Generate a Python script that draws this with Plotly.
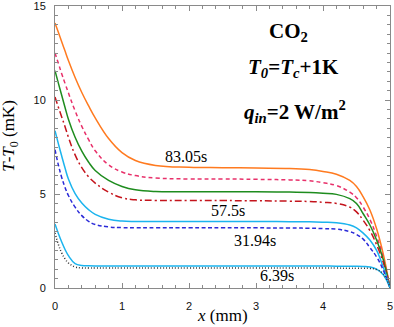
import plotly.graph_objects as go

# x positions (mm) at which the profiles were read
x_mm = [0, 0.05, 0.1, 0.15, 0.2, 0.3, 0.4, 0.5, 0.6, 0.8, 1.0, 1.2, 1.5, 2.0, 2.5,
        3.0, 3.5, 3.8, 4.0, 4.2, 4.4, 4.5, 4.6, 4.7, 4.8, 4.9, 5.0]

# T - T0 (mK)
orange_solid = [14.1, 13.6, 13.1, 12.6, 12.1, 11.2, 10.4, 9.7, 9.05, 7.95, 7.2, 6.78, 6.52, 6.42, 6.4,
                6.38, 6.36, 6.3, 6.2, 6.05, 5.72, 5.4, 4.85, 4.15, 3.15, 1.8, 0.0]
pink_dash = [12.5, 11.95, 11.4, 10.88, 10.38, 9.42, 8.6, 7.9, 7.3, 6.55, 6.17, 5.98, 5.85, 5.8, 5.8,
             5.78, 5.75, 5.7, 5.6, 5.45, 5.1, 4.8, 4.3, 3.65, 2.75, 1.6, 0.0]
green_solid = [11.56, 10.9, 10.25, 9.6, 8.98, 8.02, 7.28, 6.7, 6.25, 5.72, 5.4, 5.22, 5.13, 5.12, 5.12,
               5.12, 5.1, 5.08, 5.04, 4.98, 4.75, 4.5, 3.95, 3.35, 2.55, 1.5, 0.0]
red_dashdot = [10.16, 9.62, 9.1, 8.58, 8.02, 7.08, 6.4, 5.92, 5.58, 5.1, 4.8, 4.69, 4.66, 4.65, 4.65,
               4.64, 4.62, 4.6, 4.56, 4.5, 4.3, 4.05, 3.6, 3.05, 2.3, 1.35, 0.0]
cyan_upper = [8.37, 7.68, 7.02, 6.38, 5.8, 5.02, 4.52, 4.17, 3.92, 3.66, 3.56, 3.54, 3.54, 3.54, 3.54,
              3.54, 3.53, 3.52, 3.5, 3.47, 3.35, 3.2, 2.92, 2.55, 2.0, 1.1, 0.0]
blue_dash = [7.36, 6.55, 5.88, 5.35, 4.92, 4.3, 3.85, 3.55, 3.38, 3.25, 3.21, 3.2, 3.2, 3.2, 3.2,
             3.2, 3.19, 3.18, 3.16, 3.13, 3.0, 2.85, 2.6, 2.15, 1.65, 0.95, 0.0]
cyan_lower = [3.4, 2.9, 2.45, 2.05, 1.72, 1.3, 1.2, 1.18, 1.17, 1.17, 1.17, 1.17, 1.17, 1.17, 1.17,
              1.17, 1.17, 1.17, 1.17, 1.16, 1.16, 1.16, 1.15, 1.12, 1.0, 0.7, 0.0]
black_dot = [2.93, 2.32, 1.87, 1.55, 1.33, 1.12, 1.07, 1.06, 1.06, 1.06, 1.06, 1.06, 1.06, 1.06, 1.06,
             1.06, 1.06, 1.06, 1.06, 1.06, 1.05, 1.05, 1.05, 1.04, 0.98, 0.75, 0.0]

time_labels = ["83.05s", "57.5s", "31.94s", "6.39s"]
label_x = [1.96, 2.58, 2.99, 3.31]
label_y = [6.98, 4.11, 2.52, 0.65]

x_ticks = [0, 1, 2, 3, 4, 5]
y_ticks = [0, 5, 10, 15]

series = [
    (orange_solid, "#FF7A1F", "solid"),
    (pink_dash, "#E8306A", "4px,3px"),
    (green_solid, "#1E8C1E", "solid"),
    (red_dashdot, "#C4141C", "7px,3px,2px,3px"),
    (cyan_upper, "#1BB4EE", "solid"),
    (blue_dash, "#2A2AD8", "4px,2.5px"),
    (cyan_lower, "#1BB4EE", "solid"),
    (black_dot, "#333333", "1px,2px"),
]

fig = go.Figure()
for ys, col, dash in series:
    fig.add_trace(go.Scatter(x=x_mm, y=ys, mode="lines",
                             line=dict(color=col, width=1.5, dash=dash, shape="spline", smoothing=1.2),
                             showlegend=False, hoverinfo="skip"))

serif = "Liberation Serif"
sans = "Liberation Sans"

for t, lx, ly in zip(time_labels, label_x, label_y):
    fig.add_annotation(x=lx, y=ly, xref="x", yref="y", text=t, showarrow=False,
                       font=dict(family=serif, size=16, color="black"),
                       xanchor="center", yanchor="middle")

fig.add_annotation(x=3.49, y=13.62, xref="x", yref="y", text="<b>CO<sub>2</sub></b>",
                   showarrow=False, font=dict(family=serif, size=21, color="black"),
                   xanchor="center", yanchor="middle")
fig.add_annotation(x=3.56, y=11.72, xref="x", yref="y",
                   text="<b><i>T</i><sub><i>0</i></sub>=<i>T</i><sub><i>c</i></sub>+1K</b>",
                   showarrow=False, font=dict(family=serif, size=21, color="black"),
                   xanchor="center", yanchor="middle")
fig.add_annotation(x=3.58, y=9.4, xref="x", yref="y",
                   text="<b><i>q</i><sub><i>in</i></sub>=2 W/m<sup>2</sup></b>",
                   showarrow=False, font=dict(family=serif, size=21, color="black"),
                   xanchor="center", yanchor="middle")

# axis titles
fig.add_annotation(x=0.5, y=-0.099, xref="paper", yref="paper", text="<i>x</i> (mm)",
                   showarrow=False, font=dict(family=serif, size=17, color="black"),
                   xanchor="center", yanchor="middle")
fig.add_annotation(x=-0.134, y=0.54, xref="paper", yref="paper",
                   text="<i>T</i>-<i>T</i><sub>0</sub> (mK)", textangle=-90,
                   showarrow=False, font=dict(family=serif, size=17, color="black"),
                   xanchor="center", yanchor="middle")

axis_common = dict(showgrid=False, zeroline=False, showline=True, linecolor="#8a8a8a",
                   linewidth=1, mirror="allticks", ticks="inside", ticklen=5,
                   tickcolor="#8a8a8a", tickwidth=1, automargin=False,
                   ticklabeloverflow="allow",
                   tickfont=dict(family=sans, size=11, color="#111111"))

fig.update_xaxes(range=[0, 5], tickvals=x_ticks, ticktext=[str(v) for v in x_ticks],
                 minor=dict(dtick=0.2, ticks="inside", ticklen=3, tickcolor="#8a8a8a", showgrid=False),
                 ticklabelstandoff=8, **axis_common)
fig.update_yaxes(range=[0, 15], tickvals=y_ticks, ticktext=[str(v) for v in y_ticks],
                 minor=dict(dtick=0.5, ticks="inside", ticklen=3, tickcolor="#8a8a8a", showgrid=False),
                 ticklabelstandoff=6, **axis_common)

fig.update_layout(width=394, height=327, margin=dict(l=55, r=4, t=6, b=39),
                  paper_bgcolor="white", plot_bgcolor="white")

fig.write_html("out.html", config={"displayModeBar": False},
               post_script="document.body.style.margin='0px';")
